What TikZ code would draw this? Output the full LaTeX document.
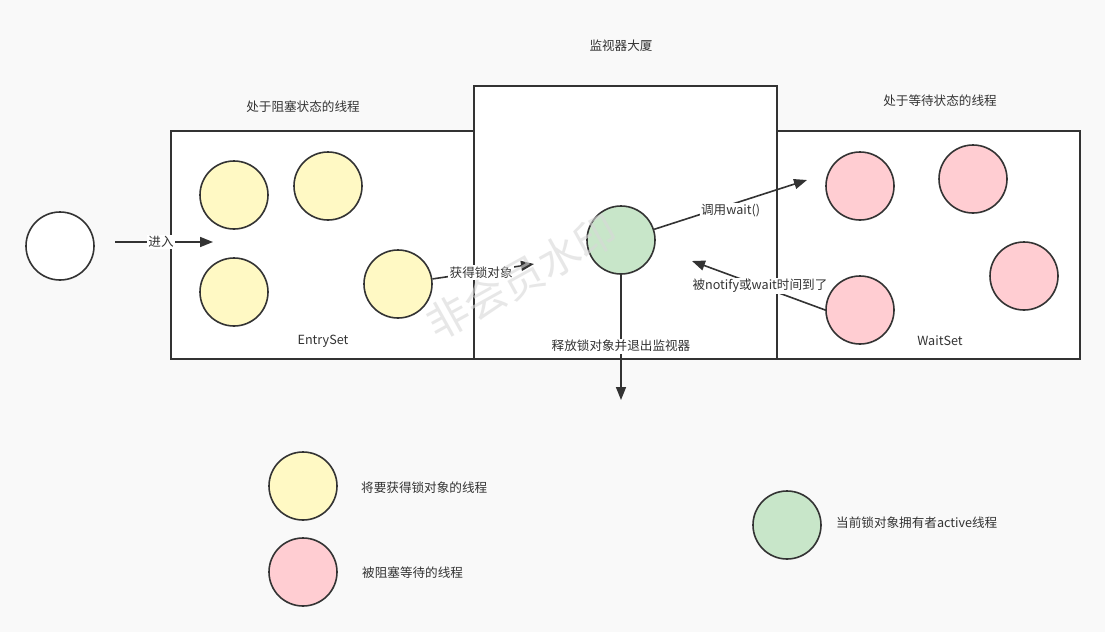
\documentclass[tikz,border=0pt]{standalone}
\usepackage{fontspec}
\setmainfont{Noto Sans CJK SC}
\usetikzlibrary{arrows.meta}
\definecolor{bgc}{HTML}{F9F9F9}
\definecolor{lc}{HTML}{333333}
\definecolor{tc}{HTML}{333333}
\definecolor{yc}{HTML}{FFF9C4}
\definecolor{pc}{HTML}{FFCDD2}
\definecolor{gc}{HTML}{C8E6C9}
\definecolor{wmc}{HTML}{D8D8D8}
\begin{document}
\begin{tikzpicture}[x=1pt,y=-1pt,
  ln/.style={draw=lc, line width=1.6pt},
  box/.style={ln, fill=white},
  th/.style={circle, draw=lc, line width=1.6pt, minimum size=68pt, inner sep=0pt},
  yth/.style={th, fill=yc},
  pth/.style={th, fill=pc},
  gth/.style={th, fill=gc},
  wth/.style={th, fill=white},
  txt/.style={font=\fontsize{12.6}{15}\selectfont, text=tc, inner sep=1pt},
  lbl/.style={txt, fill=white, inner sep=1.5pt},
  arr/.style={ln, -{Triangle[length=13pt,width=10pt]}}]
\path[fill=bgc] (0,0) rectangle (1105,632);
\useasboundingbox (0,0) rectangle (1105,632);

% boxes
\draw[box] (171,131) rectangle (474,359);
\draw[box] (474,86) rectangle (777,359);
\draw[box] (777,131) rectangle (1080,359);

% threads
\node[wth] (s) at (60,246) {};
\node[yth] (y1) at (234,195) {};
\node[yth] (y2) at (328,186) {};
\node[yth] (y3) at (234,292) {};
\node[yth] (y4) at (398,284) {};
\node[gth] (g) at (621,240) {};
\node[pth] (p1) at (860,186) {};
\node[pth] (p2) at (973,179) {};
\node[pth] (p3) at (1024,276) {};
\node[pth] (p4) at (860,310) {};

% free ends
\coordinate (e0) at (115,242);
\coordinate (e1) at (213,242);
\coordinate (e2) at (534,264);
\coordinate (e3) at (807,180);
\coordinate (e4) at (692,261);
\coordinate (e5) at (621,400);

% connectors
\draw[arr] (e0) -- (e1) node[lbl, pos=0.47] (l0) {进入};
\draw[arr] (y4) -- (e2) node[lbl, pos=0.48, yshift=-1pt] (l1) {获得锁对象};
\draw[arr] (g) -- (e3) node[lbl, pos=0.5, yshift=-6pt] (l2) {调用wait()};
\draw[arr] (p4.west) -- (e4) node[lbl, pos=0.49] (l3) {被notify或wait时间到了};
\draw[arr] (g) -- (e5) node[lbl, pos=0.57] (l4) {释放锁对象并退出监视器};

% titles
\node[txt] (t1) at (621,46) {监视器大厦};
\node[txt] (t2) at (303,107) {处于阻塞状态的线程};
\node[txt] (t3) at (940,101) {处于等待状态的线程};
\node[txt] (t4) at (323,341) {EntrySet};
\node[txt] (t5) at (940,341) {WaitSet};

% legend
\node[yth] (ly) at (303,486) {};
\node[pth] (lp) at (303,572) {};
\node[gth] (lg) at (787,525) {};
\node[txt, anchor=west] (tly) at (360,488) {将要获得锁对象的线程};
\node[txt, anchor=west] (tlp) at (361,573) {被阻塞等待的线程};
\node[txt, anchor=west] (tlg) at (835,523) {当前锁对象拥有者active线程};

% watermark
\node[text=wmc, opacity=0.6, rotate=29, font=\fontsize{42}{46}\selectfont, inner sep=0pt] (wm) at (522,277) {非会员水印};
\end{tikzpicture}
\end{document}
